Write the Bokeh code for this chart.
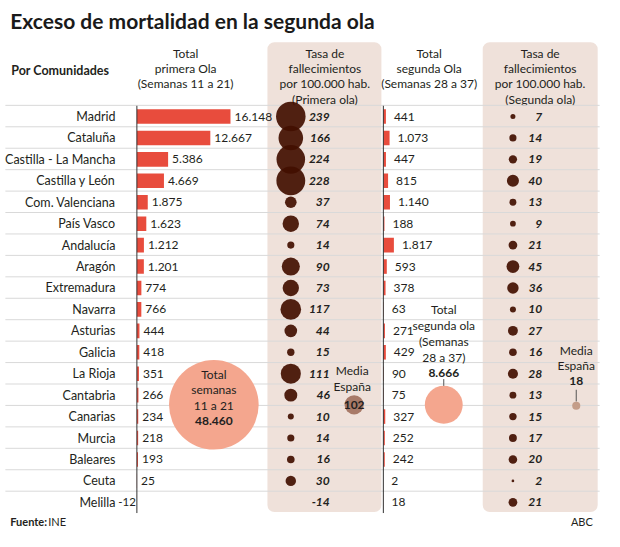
from bokeh.plotting import figure
from bokeh.models import Range1d, ColumnDataSource, BoxAnnotation
from bokeh.core.properties import value
from bokeh.embed import file_html
from bokeh.resources import INLINE
import math

# ---------------- data ----------------
comunidades = ["Madrid", "Cataluña", "Castilla - La Mancha", "Castilla y León",
               "Com. Valenciana", "País Vasco", "Andalucía", "Aragón", "Extremadura",
               "Navarra", "Asturias", "Galicia", "La Rioja", "Cantabria", "Canarias",
               "Murcia", "Baleares", "Ceuta", "Melilla"]
total_primera = [16148, 12667, 5386, 4669, 1875, 1623, 1212, 1201, 774, 766,
                 444, 418, 351, 266, 234, 218, 193, 25, -12]
tasa_primera = [239, 166, 224, 228, 37, 74, 14, 90, 73, 117,
                44, 15, 111, 46, 10, 14, 16, 30, -14]
total_segunda = [441, 1073, 447, 815, 1140, 188, 1817, 593, 378, 63,
                 271, 429, 90, 75, 327, 252, 242, 2, 18]
tasa_segunda = [7, 14, 19, 40, 13, 9, 21, 45, 36, 10,
                27, 16, 28, 13, 15, 17, 20, 2, 21]
suma_primera = 48460
suma_segunda = 8666
media_primera = 102
media_segunda = 18

# ---------------- styling / layout ----------------
FONT = "Lato"
TXT = "#231f20"
BAR = "#e84c3d"
BUB = "#420f00"
SALMON = "#f4a68e"
PANEL = "#efe1da"
SEP = "#d9d9d9"
FS = "12px"

ROW0 = 119.5      # reference px of first row centre
ROWH = 22.08      # reference px per row
PX_PER_UNIT = 0.00595  # bar length scale (ref px per death)
AX1 = 140.0
AX2 = 393.0
K_ROW = 0.98      # bubble radius factor (ref px per sqrt(value))
K_TOT = 0.209


def fmt(v):
    return f"{v:,}".replace(",", ".")


p = figure(width=604, height=531, x_range=Range1d(0, 620), y_range=Range1d(547, 0),
           output_backend="svg", toolbar_location=None, min_border=0,
           x_axis_type=None, y_axis_type=None, outline_line_color=None)
p.grid.visible = False
p.background_fill_color = "white"
p.border_fill_color = "white"

p.extra_y_ranges = {"rows": Range1d((547 - ROW0) / ROWH, (0 - ROW0) / ROWH)}
p.extra_x_ranges = {
    "b1": Range1d(-AX1 / PX_PER_UNIT, (620 - AX1) / PX_PER_UNIT),
    "b2": Range1d(-AX2 / PX_PER_UNIT, (620 - AX2) / PX_PER_UNIT),
}

# panels
for l, r in [(274, 391), (495, 613)]:
    p.add_layout(BoxAnnotation(left=l, right=r, top=43, bottom=527, fill_color=PANEL,
                               fill_alpha=1, line_color=None, border_radius=7,
                               level="underlay"))

n = len(comunidades)
rows = list(range(n))


def txt(x, y, t, size=FS, align="left", style="normal", color=TXT, **kw):
    p.text(x=[x], y=[y], text=[t], text_font=value(FONT), text_font_size=value(size),
           text_align=align, text_baseline="middle", text_font_style=style,
           text_color=color, **kw)


# title & header
txt(10, 21, "Exceso de mortalidad en la segunda ola", size="21px", style="bold",
    color="#1a1a1a")
txt(11, 72, "Por Comunidades", size="12.5px", style="bold")
for cx, lines in [(190, ["Total", "primera Ola", "(Semanas 11 a 21)"]),
                  (333, ["Tasa de", "fallecimientos", "por 100.000 hab.", "(Primera ola)"]),
                  (440, ["Total", "segunda Ola", "(Semanas 28 a 37)"]),
                  (554, ["Tasa de", "fallecimientos", "por 100.000 hab.", "(Segunda ola)"])]:
    for k, ln in enumerate(lines):
        txt(cx, 55 + 15.5 * k, ln, size="12px", align="center")

# separators
p.segment(x0=[5] * n, x1=[615] * n, y0=[i - 0.52 for i in rows], y1=[i - 0.52 for i in rows],
          line_color=SEP, line_width=1, y_range_name="rows")

# names
p.text(x=[118] * n, y=rows, text=comunidades, text_font=value(FONT),
       text_font_size=value("12.5px"), text_align="right", text_baseline="middle",
       text_color=TXT, y_range_name="rows")

# bars first wave
src1 = ColumnDataSource(dict(y=rows, v=total_primera))
p.hbar(y="y", right="v", left=0, height=0.68, source=src1, fill_color=BAR, line_color=None,
       x_range_name="b1", y_range_name="rows")
pos1 = [(i, v) for i, v in zip(rows, total_primera) if v >= 0]
neg1 = [(i, v) for i, v in zip(rows, total_primera) if v < 0]
p.text(x=[v for _, v in pos1], y=[i for i, _ in pos1], text=[fmt(v) for _, v in pos1],
       x_offset=4, text_font=value(FONT), text_font_size=value(FS),
       text_baseline="middle", text_color=TXT, x_range_name="b1", y_range_name="rows")
p.text(x=[0 for _ in neg1], y=[i for i, _ in neg1], text=[fmt(v) for _, v in neg1],
       x_offset=-1, text_align="right", text_font=value(FONT), text_font_size=value("11.5px"),
       text_baseline="middle", text_color=TXT, x_range_name="b1", y_range_name="rows")
p.segment(x0=[0], x1=[0], y0=[-0.5], y1=[n - 0.5], line_color="#333333", line_width=1,
          x_range_name="b1", y_range_name="rows")

# bubbles first wave (rate)
r1 = [K_ROW * math.sqrt(max(v, 0)) for v in tasa_primera]
p.circle(x=[298] * n, y=rows, radius=r1, fill_color=BUB, fill_alpha=0.92, line_color=None,
         y_range_name="rows")
p.text(x=[338] * n, y=rows, text=[str(v) for v in tasa_primera], text_font=value(FONT),
       text_font_size=value(FS), text_font_style="bold italic", text_align="right",
       text_baseline="middle", text_color=TXT, y_range_name="rows")

# bars second wave
src2 = ColumnDataSource(dict(y=rows, v=total_segunda))
p.hbar(y="y", right="v", left=0, height=0.68, source=src2, fill_color=BAR, line_color=None,
       x_range_name="b2", y_range_name="rows")
p.text(x=total_segunda, y=rows, text=[fmt(v) for v in total_segunda], x_offset=8,
       text_font=value(FONT), text_font_size=value(FS), text_baseline="middle",
       text_color=TXT, x_range_name="b2", y_range_name="rows")
p.segment(x0=[0], x1=[0], y0=[-0.5], y1=[n - 0.5], line_color="#333333", line_width=1,
          x_range_name="b2", y_range_name="rows")

# bubbles second wave (rate)
r2 = [K_ROW * math.sqrt(max(v, 0)) for v in tasa_segunda]
p.circle(x=[526] * n, y=rows, radius=r2, fill_color=BUB, fill_alpha=0.92, line_color=None,
         y_range_name="rows")
p.text(x=[556] * n, y=rows, text=[str(v) for v in tasa_segunda], text_font=value(FONT),
       text_font_size=value(FS), text_font_style="bold italic", text_align="right",
       text_baseline="middle", text_color=TXT, y_range_name="rows")

# totals bubbles
p.circle(x=[219, 455], y=[416.5, 416.5],
         radius=[K_TOT * math.sqrt(suma_primera), K_TOT * math.sqrt(suma_segunda)],
         fill_color=SALMON, line_color=None)
for k, ln in enumerate(["Total", "semanas", "11 a 21"]):
    txt(219, 385 + 16 * k, ln, align="center")
txt(219, 433, fmt(suma_primera), align="center", style="bold")
for k, ln in enumerate(["Total", "segunda ola", "(Semanas", "28 a 37)"]):
    txt(455, 318 + 16.5 * k, ln, align="center")
txt(455, 384, fmt(suma_segunda), align="center", style="bold")
p.segment(x0=[455], x1=[455], y0=[390], y1=[397], line_color="#555555", line_width=1)

# media bubbles
p.circle(x=[363], y=[416.5], radius=[K_ROW * math.sqrt(media_primera)],
         fill_color="#a87a68", line_color=None)
txt(361, 381.5, "Media", align="center")
txt(361, 397.5, "España", align="center")
txt(363, 417, str(media_primera), align="center", style="bold")

p.circle(x=[591], y=[417.5], radius=[K_ROW * math.sqrt(media_segunda)],
         fill_color="#c49d89", line_color=None)
txt(591, 360.5, "Media", align="center")
txt(591, 376.5, "España", align="center")
txt(591, 392, str(media_segunda), align="center", style="bold")
p.segment(x0=[591], x1=[591], y0=[401], y1=[413], line_color="#555555", line_width=1)

# footer
txt(10, 537, "Fuente:", size="11px", style="bold")
txt(49, 537, "INE", size="11px")
txt(608, 537, "ABC", size="11px", align="right")

open("out.html", "w").write(file_html(p, INLINE))
